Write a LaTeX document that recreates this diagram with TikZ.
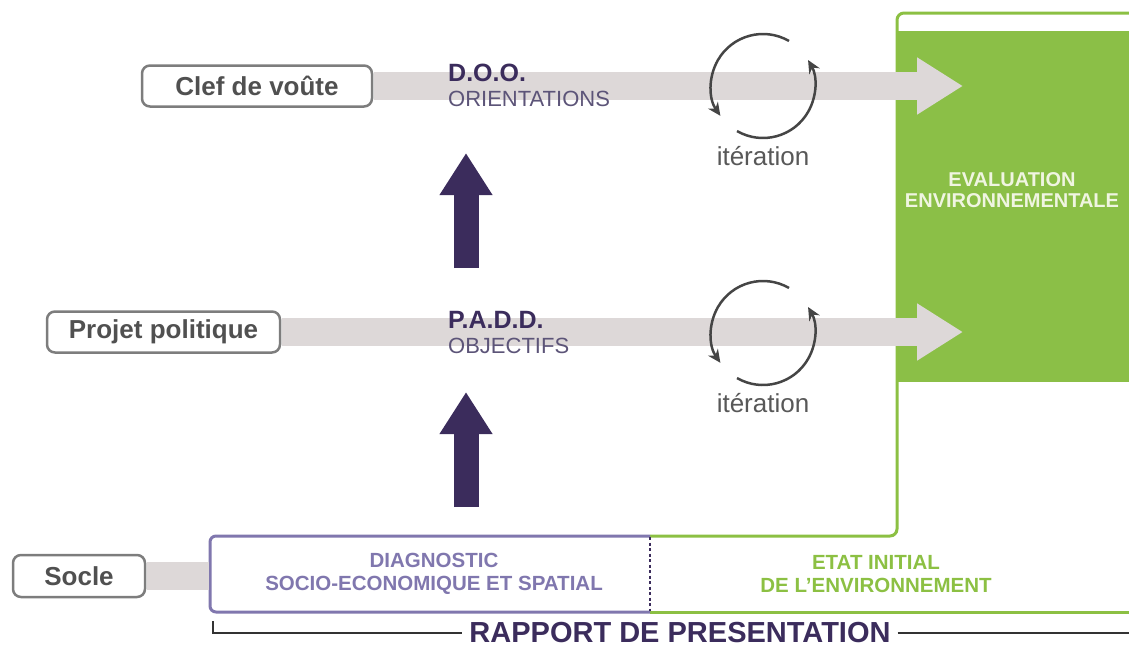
\documentclass[tikz,border=0pt]{standalone}
\usepackage{fontspec}
\setmainfont{Liberation Sans}
\usetikzlibrary{arrows.meta,positioning}
\definecolor{bandgray}{HTML}{DDD8D8}
\definecolor{boxgray}{HTML}{7D7D7D}
\definecolor{boxtext}{HTML}{505050}
\definecolor{darkpurple}{HTML}{3B2C5C}
\definecolor{midpurple}{HTML}{5C5478}
\definecolor{lilac}{HTML}{8077AE}
\definecolor{envgreen}{HTML}{8CC043}
\definecolor{evalfill}{HTML}{8BBF47}
\definecolor{evaltext}{HTML}{F0F5E1}
\definecolor{loopgray}{HTML}{454545}
\newcommand{\pxsize}[2]{\fontsize{#1}{#2}\selectfont}
\tikzset{
stage/.style={
	draw=boxgray, line width=2.5pt, rounded corners=8pt, fill=white,
	text=boxtext, font=\pxsize{26}{30}\bfseries, minimum height=41pt},
band/.style={draw=bandgray, line width=28pt},
bandtip/.style={band, -{Triangle[length=46pt,width=54pt]}},
lift/.style={draw=darkpurple, line width=25pt, -{Triangle[length=42pt,width=50pt]}},
stagetitle/.style={text=darkpurple, font=\pxsize{25}{28}\bfseries, inner sep=0pt},
stagesub/.style={text=midpurple, font=\pxsize{22}{26}, inner sep=0pt},
iterloop/.style={draw=loopgray, line width=2.5pt, -{Stealth[length=13pt,width=12pt]}},
iterlabel/.style={text=loopgray!90, font=\pxsize{26}{30}, inner sep=0pt},
greenline/.style={draw=envgreen, line width=3pt},
lilacline/.style={draw=lilac, line width=3pt},
parttext/.style={align=center, font=\pxsize{20.5}{23}\bfseries}
}

\begin{document}
\begin{tikzpicture}[x=1pt, y=-1pt]
	\useasboundingbox (0,0) rectangle (1129,649);
	\fill[evalfill] (898,31) rectangle (1140,382);
	\draw[greenline, rounded corners=7pt] (1140,13) -- (897,13) -- (897,536) -- (650,536);
	\draw[greenline] (650,612) -- (1140,612);
	\draw[lilacline, rounded corners=6pt] (650,536) -- (210,536) -- (210,612) -- (650,612);
	\draw[darkpurple, line width=2pt, dash pattern=on 3pt off 2.5pt] (650,537) -- (650,611);
	\node[text=evaltext, parttext, font=\pxsize{20}{21}\bfseries] (eval) at (1012,190) {EVALUATION\\ENVIRONNEMENTALE};

	\node[stage, minimum width=230pt] (clef) at (257,86) {Clef de voûte};
	\node[stage, minimum width=233pt] (projet) at (163.5,332) {Projet politique};
	\node[stage, minimum width=132pt, minimum height=42pt] (socle) at (79,576) {Socle};
	\coordinate (tip1) at (963,86);
	\coordinate (tip2) at (963,332);
	\coordinate (diagleft) at (210,576);
	\draw[bandtip, shorten <=1.2pt] (clef.east) -- (tip1);
	\draw[bandtip, shorten <=1.2pt] (projet.east) -- (tip2);
	\draw[band, shorten <=1.2pt, shorten >=1.5pt] (socle.east) -- (diagleft);

	\node[stagetitle, anchor=west] (doo) at (448,73) {D.O.O.};
	\node[stagesub, below=9pt of doo.south west, anchor=north west] (orient) {ORIENTATIONS};
	\node[stagetitle, anchor=west] (padd) at (448,320) {P.A.D.D.};
	\node[stagesub, below=9pt of padd.south west, anchor=north west] (obj) {OBJECTIFS};

	\coordinate (lift1) at (466,268);
	\coordinate (lift1tip) at (466,153);
	\coordinate (lift2) at (466,507);
	\coordinate (lift2tip) at (466,392);
	\draw[lift] (lift1) -- (lift1tip);
	\draw[lift] (lift2) -- (lift2tip);

	\foreach \n/\y in {1/86, 2/333} {
		\coordinate (it\n) at (763,\y);
		\draw[iterloop] ([shift={(-60:52)}]it\n) arc[start angle=-60, end angle=-215, radius=52];
		\draw[iterloop] ([shift={(-240:52)}]it\n) arc[start angle=-240, end angle=-390, radius=52];
		\node[iterlabel, below=60pt of it\n] (iter\n) {itération};
	}

	\node[parttext, text=lilac] (diag) at (434,574) {DIAGNOSTIC\\SOCIO-ECONOMIQUE ET SPATIAL};
	\node[parttext, text=envgreen] (etat) at (876,574) {ETAT INITIAL\\DE L'ENVIRONNEMENT};

	\node[text=darkpurple, font=\pxsize{29}{33}\bfseries, inner xsep=7pt, inner ysep=0pt] (rapport) at (680,633) {RAPPORT DE PRESENTATION};
	\coordinate (brk) at (213,621);
	\draw[black!80, line width=2pt] (brk) |- (rapport.west);
	\draw[black!80, line width=2pt] (rapport.east) -- (1140,633);
\end{tikzpicture}
\end{document}
